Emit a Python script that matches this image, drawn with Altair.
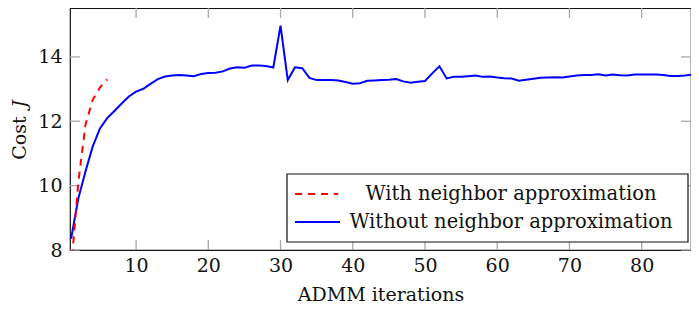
import altair as alt
import pandas as pd

# --- data ---
iters_without = list(range(1, 89))
cost_without = [
    8.35, 9.60, 10.45, 11.22, 11.78, 12.10, 12.32, 12.55, 12.77, 12.92,
    13.01, 13.16, 13.31, 13.39, 13.42, 13.44, 13.42, 13.40, 13.47, 13.50,
    13.51, 13.55, 13.64, 13.68, 13.66, 13.73, 13.73, 13.72, 13.67, 14.97,
    13.28, 13.68, 13.65, 13.35, 13.28, 13.28, 13.28, 13.27, 13.22, 13.17,
    13.18, 13.26, 13.27, 13.28, 13.29, 13.31, 13.24, 13.20, 13.23, 13.25,
    13.49, 13.71, 13.33, 13.38, 13.38, 13.40, 13.42, 13.38, 13.39, 13.36,
    13.34, 13.33, 13.26, 13.29, 13.32, 13.35, 13.36, 13.37, 13.36, 13.39,
    13.42, 13.44, 13.44, 13.46, 13.42, 13.45, 13.43, 13.42, 13.45, 13.45,
    13.45, 13.45, 13.44, 13.41, 13.41, 13.42, 13.45, 13.47,
]
iters_with = [1, 2, 3, 4, 5, 6]
cost_with = [7.4, 10.1, 11.9, 12.67, 13.05, 13.3]

series_names = ["With neighbor approximation", "Without neighbor approximation"]
series_colors = ["#ff0000", "#0000ff"]

x_ticks = [10, 20, 30, 40, 50, 60, 70, 80]
y_ticks = [8, 10, 12, 14]
x_domain = [0.85, 86.83]
y_domain = [8, 15.52]

W, H = 621, 242
FONT = "DejaVu Serif"
FS = 19
LFS = 19.5

df_without = pd.DataFrame({"iter": iters_without, "cost": cost_without})
df_with = pd.DataFrame({"iter": iters_with, "cost": cost_with})
df_xt = pd.DataFrame({"v": x_ticks})
df_yt = pd.DataFrame({"v": y_ticks})

xs = alt.Scale(domain=x_domain, nice=False, zero=False)
ys = alt.Scale(domain=y_domain, nice=False, zero=False)

x_axis = alt.Axis(values=x_ticks, title="ADMM iterations", ticks=False, domain=False,
                  grid=False, labelPadding=6, titlePadding=10, labelFlush=False)
y_axis = alt.Axis(values=y_ticks, title=None, ticks=False, domain=False,
                  grid=False, labelPadding=8, labelFlush=False)

blue = alt.Chart(df_without).mark_line(color=series_colors[1], strokeWidth=2, clip=True).encode(
    x=alt.X("iter:Q", scale=xs, axis=x_axis),
    y=alt.Y("cost:Q", scale=ys, axis=y_axis),
)
red = alt.Chart(df_with).mark_line(color=series_colors[0], strokeWidth=2, strokeDash=[7, 6], clip=True).encode(
    x=alt.X("iter:Q", scale=xs),
    y=alt.Y("cost:Q", scale=ys),
)

TICK_C = "#a8a8a8"
TL = 10
xt_bottom = alt.Chart(df_xt).mark_rule(color=TICK_C, strokeWidth=1.3).encode(
    x=alt.X("v:Q", scale=xs), y=alt.value(H - TL), y2=alt.value(H))
xt_top = alt.Chart(df_xt).mark_rule(color=TICK_C, strokeWidth=1.3).encode(
    x=alt.X("v:Q", scale=xs), y=alt.value(0), y2=alt.value(TL))
yt_left = alt.Chart(df_yt).mark_rule(color=TICK_C, strokeWidth=1.3).encode(
    y=alt.Y("v:Q", scale=ys), x=alt.value(0), x2=alt.value(TL))
yt_right = alt.Chart(df_yt).mark_rule(color=TICK_C, strokeWidth=1.3).encode(
    y=alt.Y("v:Q", scale=ys), x=alt.value(W - TL), x2=alt.value(W))

# y title: "Cost" upright + "J" italic
one = pd.DataFrame({"a": [0]})
ytitle = alt.Chart(one).mark_text(font=FONT, fontSize=FS, angle=270, color="#111").encode(
    x=alt.value(-50), y=alt.value(130), text=alt.value("Cost"))
ytitle_j = alt.Chart(one).mark_text(font=FONT, fontSize=FS, fontStyle="italic", angle=270, color="#111").encode(
    x=alt.value(-50), y=alt.value(96), text=alt.value("J"))

# legend box
leg_box = alt.Chart(one).mark_rect(fill="white", stroke="#111", strokeWidth=1.2).encode(
    x=alt.value(217), x2=alt.value(618), y=alt.value(166), y2=alt.value(234))
leg_red = alt.Chart(one).mark_rule(color=series_colors[0], strokeWidth=2, strokeDash=[7, 6]).encode(
    x=alt.value(225), x2=alt.value(268), y=alt.value(186))
leg_blue = alt.Chart(one).mark_rule(color=series_colors[1], strokeWidth=2).encode(
    x=alt.value(225), x2=alt.value(270), y=alt.value(214))
leg_t1 = alt.Chart(one).mark_text(font=FONT, fontSize=LFS, color="#111", align="center", baseline="middle").encode(
    x=alt.value(441), y=alt.value(186), text=alt.value(series_names[0]))
leg_t2 = alt.Chart(one).mark_text(font=FONT, fontSize=LFS, color="#111", align="center", baseline="middle").encode(
    x=alt.value(441), y=alt.value(214), text=alt.value(series_names[1]))

chart = alt.layer(
    xt_bottom, xt_top, yt_left, yt_right, blue, red, ytitle, ytitle_j,
    leg_box, leg_red, leg_blue, leg_t1, leg_t2,
).properties(
    width=W, height=H,
    autosize=alt.AutoSizeParams(type="none"),
    padding={"left": 62, "top": 0, "right": 0, "bottom": 62},
).configure_view(
    stroke="#111", strokeWidth=1.2
).configure_axis(
    labelFont=FONT, labelFontSize=FS, labelColor="#111",
    titleFont=FONT, titleFontSize=FS, titleColor="#111", titleFontWeight="normal",
)

chart.save("out.html", embed_options={"renderer": "svg", "actions": False})
